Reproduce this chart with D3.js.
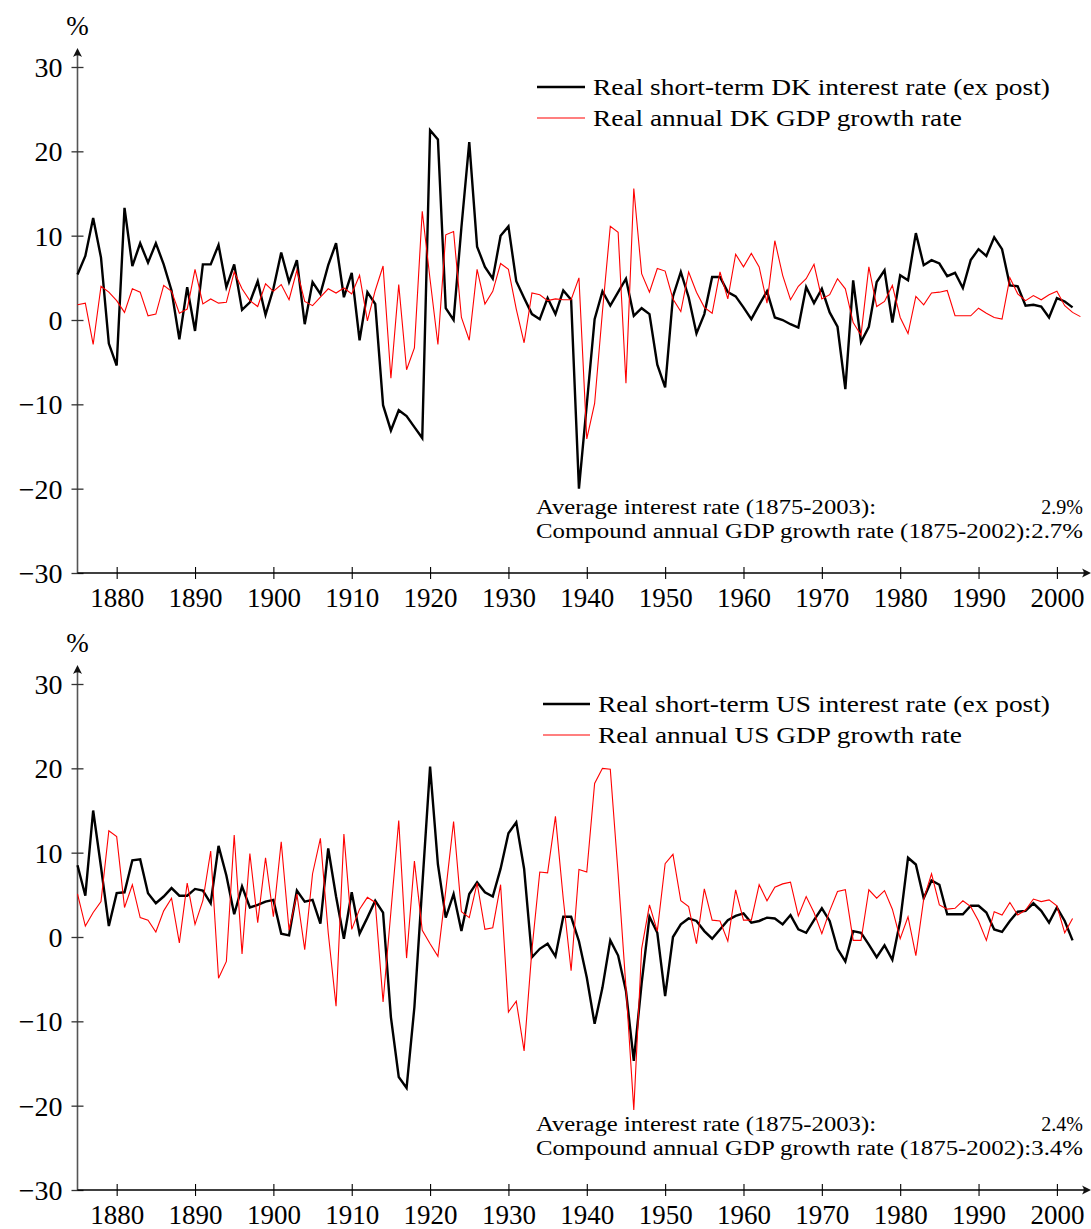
<!DOCTYPE html>
<html><head><meta charset="utf-8">
<script src="https://cdn.jsdelivr.net/npm/d3@7"></script>
<style>body{margin:0;background:#fff}svg{display:block}</style>
</head><body>
<svg id="c" width="1091" height="1229"></svg>
<script>
// ---------- DATA ----------
const startYear = 1875;
const xTickYears = [1880,1890,1900,1910,1920,1930,1940,1950,1960,1970,1980,1990,2000];
const yTickValues = [-30,-20,-10,0,10,20,30];

// Denmark, real short-term interest rate (ex post), 1875-2002
const dkRate = [
  5.4, 7.6, 12.1, 7.4, -2.8,
  -5.4, 13.3, 6.4, 9.1, 6.8, 9.1, 6.6, 3.5, -2.3, 3.9,
  -1.3, 6.6, 6.6, 8.9, 3.9, 6.6, 1.2, 2.1, 4.6, 0.6,
  3.7, 8.0, 4.5, 7.1, -0.5, 4.5, 3.1, 6.5, 9.1, 2.7,
  5.6, -2.4, 3.3, 1.9, -10.1, -13.1, -10.7, -11.4, -12.7, -14.0,
  22.5, 21.4, 1.4, 0.0, 11.0, 21.1, 8.7, 6.3, 4.9, 10.0,
  11.1, 4.6, 2.6, 0.7, 0.1, 2.6, 0.7, 3.5, 2.4, -20.0,
  -10.0, 0.1, 3.4, 1.7, 3.3, 4.9, 0.5, 1.4, 0.7, -5.3,
  -8.0, 2.8, 5.7, 2.7, -1.6, 0.7, 5.1, 5.1, 3.3, 2.8,
  1.5, 0.1, 1.8, 3.4, 0.3, 0.0, -0.5, -0.9, 3.9, 2.0,
  3.7, 0.9, -0.8, -8.2, 4.7, -2.6, -0.8, 4.5, 5.9, -0.3,
  5.3, 4.7, 10.3, 6.5, 7.1, 6.7, 5.2, 5.6, 3.8, 7.1,
  8.4, 7.6, 9.8, 8.4, 4.1, 4.0, 1.7, 1.8, 1.6, 0.3,
  2.6, 2.2, 1.5
];
// Denmark, real annual GDP growth rate, 1875-2003
const dkGdp = [
  1.8, 2.0, -2.9, 4.0, 3.3,
  2.3, 0.9, 3.7, 3.3, 0.5, 0.7, 4.1, 3.4, 0.8, 1.3,
  6.0, 1.9, 2.5, 2.0, 2.1, 5.7, 3.7, 2.3, 1.6, 4.3,
  3.4, 4.2, 2.4, 5.9, 2.2, 1.7, 2.7, 3.7, 3.2, 3.8,
  3.1, 5.3, -0.1, 3.5, 6.4, -6.9, 4.2, -5.9, -3.3, 12.9,
  4.8, -2.9, 10.1, 10.5, 0.3, -2.4, 6.0, 1.9, 3.4, 6.7,
  6.0, 1.3, -2.7, 3.2, 3.0, 2.3, 2.5, 2.4, 2.4, 5.0,
  -14.1, -9.9, 1.0, 11.1, 10.4, -7.5, 15.6, 5.5, 3.3, 6.1,
  5.8, 2.5, 1.0, 5.7, 3.3, 1.5, 0.8, 5.7, 2.5, 7.8,
  6.3, 7.9, 6.3, 2.0, 9.4, 5.3, 2.4, 4.0, 4.9, 6.6,
  2.5, 3.0, 4.9, 3.7, -0.3, -1.8, 6.3, 1.6, 2.2, 4.1,
  0.3, -1.6, 2.8, 1.8, 3.2, 3.3, 3.5, 0.5, 0.5, 0.5,
  1.4, 0.8, 0.3, 0.1, 5.0, 3.1, 2.3, 2.9, 2.4, 3.0,
  3.4, 1.7, 0.9, 0.4
];
// United States, real short-term interest rate (ex post), 1875-2002
const usRate = [
  8.5, 4.9, 15.0, 8.3, 1.3,
  5.2, 5.3, 9.1, 9.2, 5.2, 4.0, 4.8, 5.8, 4.9, 4.9,
  5.7, 5.5, 4.0, 10.8, 7.3, 2.7, 6.0, 3.5, 3.8, 4.2,
  4.4, 0.4, 0.2, 5.5, 4.2, 4.4, 1.6, 10.5, 4.8, -0.2,
  5.3, 0.4, 2.3, 4.3, 2.9, -9.5, -16.6, -17.9, -8.3, 6.0,
  20.2, 8.6, 2.3, 5.1, 0.7, 5.1, 6.5, 5.3, 4.8, 8.1,
  12.3, 13.6, 8.1, -2.4, -1.4, -0.8, -2.3, 2.4, 2.4, -0.5,
  -4.8, -10.3, -6.0, -0.4, -2.2, -6.4, -14.7, -5.5, 2.4, 0.5,
  -7.0, 0.0, 1.5, 2.2, 1.9, 0.7, -0.2, 0.9, 2.0, 2.5,
  2.8, 1.7, 1.9, 2.3, 2.2, 1.5, 2.6, 0.9, 0.5, 2.0,
  3.4, 1.9, -1.4, -2.9, 0.7, 0.5, -0.9, -2.4, -1.0, -2.7,
  1.9, 9.4, 8.6, 4.6, 6.7, 6.2, 2.7, 2.7, 2.7, 3.7,
  3.7, 2.9, 0.9, 0.6, 1.9, 3.0, 3.1, 4.0, 3.1, 1.7,
  3.5, 1.9, -0.4
];
// United States, real annual GDP growth rate, 1875-2002
const usGdp = [
  5.1, 1.3, 2.9, 4.2, 12.6,
  11.9, 3.5, 6.2, 2.3, 2.0, 0.6, 3.1, 4.6, -0.7, 6.4,
  1.5, 4.3, 10.2, -4.9, -2.9, 12.1, -2.0, 9.9, 1.7, 9.4,
  2.4, 11.3, 0.8, 5.1, -1.5, 7.5, 11.7, 0.5, -8.2, 12.2,
  0.9, 3.3, 4.7, 4.1, -7.7, 3.0, 13.8, -2.5, 9.0, 0.8,
  -0.8, -2.3, 5.5, 13.7, 3.0, 2.3, 6.4, 0.9, 1.1, 6.2,
  -8.9, -7.6, -13.5, -1.5, 7.7, 7.6, 14.3, 4.5, -4.0, 8.0,
  7.7, 18.2, 20.0, 19.9, 7.5, -6.0, -20.5, -1.4, 3.8, 0.7,
  8.7, 9.8, 4.3, 3.6, -0.8, 5.7, 2.0, 1.9, -0.5, 5.6,
  2.0, 2.0, 6.2, 4.3, 5.9, 6.3, 6.5, 2.5, 4.8, 2.9,
  0.4, 3.1, 5.4, 5.6, -0.4, -0.4, 5.6, 4.6, 5.5, 3.3,
  -0.2, 2.4, -2.2, 4.5, 7.5, 3.8, 3.3, 3.4, 4.3, 3.6,
  1.9, -0.4, 3.0, 2.6, 4.1, 2.6, 3.2, 4.5, 4.2, 4.4,
  3.7, 0.5, 2.2
];

const panels = [
  {rate: dkRate, gdp: dkGdp,
   legend: ["Real short-term DK interest rate (ex post)", "Real annual DK GDP growth rate"],
   avgLabel: "Average interest rate (1875-2003):", avgVal: "2.9%",
   gdpLabel: "Compound annual GDP growth rate (1875-2002):2.7%"},
  {rate: usRate, gdp: usGdp,
   legend: ["Real short-term US interest rate (ex post)", "Real annual US GDP growth rate"],
   avgLabel: "Average interest rate (1875-2003):", avgVal: "2.4%",
   gdpLabel: "Compound annual GDP growth rate (1875-2002):3.4%"}
];

// ---------- DRAW ----------
const svg = d3.select("#c");
const FONT = "'Liberation Serif','DejaVu Serif',serif";
const offsets = [0, 617];
const x = d3.scaleLinear().domain([1875, 2003]).range([77.5, 1080.4]);

panels.forEach((p, pi) => {
  const T = offsets[pi];
  const y = d3.scaleLinear().domain([-30, 30]).range([573 + T, 67 + T]);
  const g = svg.append("g");
  const x0 = x(1875), yBot = y(-30);

  // y axis
  g.append("line").attr("x1", x0).attr("x2", x0).attr("y1", yBot).attr("y2", 52 + T)
    .attr("stroke", "#555").attr("stroke-width", 1.6);
  g.append("path").attr("d", `M${x0},${48 + T} L${x0 - 4.5},${57 + T} Q${x0},${53.5 + T} ${x0 + 4.5},${57 + T} Z`)
    .attr("fill", "#111");
  const yAxis = d3.axisLeft(y).tickValues(yTickValues).tickSize(0)
    .tickFormat(d => d < 0 ? "\u2212" + Math.abs(d) : String(d));
  const ya = g.append("g").attr("transform", `translate(${x0},0)`).call(yAxis);
  ya.select(".domain").remove();
  ya.selectAll(".tick line").remove();
  ya.selectAll(".tick").append("line").attr("x1", -6).attr("x2", 6)
    .attr("stroke", "#333").attr("stroke-width", 1.3);
  ya.selectAll(".tick text").attr("x", -15).attr("dy", "0.34em")
    .style("font-family", FONT).style("font-size", "28px").attr("fill", "#000");

  // x axis
  g.append("line").attr("x1", x0).attr("x2", 1086).attr("y1", yBot).attr("y2", yBot)
    .attr("stroke", "#000").attr("stroke-width", 1.3);
  g.append("path").attr("d", `M1091,${yBot} L1082,${yBot - 4.5} Q1085.5,${yBot} 1082,${yBot + 4.5} Z`)
    .attr("fill", "#111");
  const xAxis = d3.axisBottom(x).tickValues(xTickYears).tickSize(0).tickFormat(d3.format("d"));
  const xa = g.append("g").attr("transform", `translate(0,${yBot})`).call(xAxis);
  xa.select(".domain").remove();
  xa.selectAll(".tick line").remove();
  xa.selectAll(".tick").append("line").attr("y1", -6).attr("y2", 6)
    .attr("stroke", "#000").attr("stroke-width", 1.1);
  xa.selectAll(".tick text").attr("y", 34).attr("dy", null)
    .style("font-family", FONT).style("font-size", "27px").attr("fill", "#000");

  // % label
  g.append("text").attr("x", x0).attr("y", 35 + T).attr("text-anchor", "middle")
    .style("font-family", FONT).style("font-size", "27px").text("%");

  // series lines
  const line = d3.line().x((d, i) => x(startYear + i)).y(d => y(d));
  g.append("path").datum(p.rate).attr("d", line).attr("fill", "none")
    .attr("stroke", "#000").attr("stroke-width", 2.4).attr("stroke-linejoin", "miter");
  g.append("path").datum(p.gdp).attr("d", line).attr("fill", "none")
    .attr("stroke", "#ff0000").attr("stroke-width", 1.1).attr("stroke-linejoin", "miter");

  // legend
  const lx1 = pi === 0 ? 537 : 543, lx2 = pi === 0 ? 585 : 590;
  const tx = pi === 0 ? 593 : 598;
  const ly = [87 + T, 118 + T];
  g.append("line").attr("x1", lx1).attr("x2", lx2).attr("y1", ly[0]).attr("y2", ly[0])
    .attr("stroke", "#000").attr("stroke-width", 2.4);
  g.append("line").attr("x1", lx1).attr("x2", lx2).attr("y1", ly[1]).attr("y2", ly[1])
    .attr("stroke", "#ff0000").attr("stroke-width", 1.1);
  g.append("text").attr("x", tx).attr("y", ly[0] + 8).attr("textLength", 1050 - tx)
    .attr("lengthAdjust", "spacingAndGlyphs")
    .style("font-family", FONT).style("font-size", "24px").text(p.legend[0]);
  g.append("text").attr("x", tx).attr("y", ly[1] + 8).attr("textLength", 962 - tx)
    .attr("lengthAdjust", "spacingAndGlyphs")
    .style("font-family", FONT).style("font-size", "24px").text(p.legend[1]);

  // annotations
  g.append("text").attr("x", 536).attr("y", 514 + T).attr("textLength", 340)
    .attr("lengthAdjust", "spacingAndGlyphs")
    .style("font-family", FONT).style("font-size", "20px").text(p.avgLabel);
  g.append("text").attr("x", 1083).attr("y", 514 + T).attr("text-anchor", "end")
    .style("font-family", FONT).style("font-size", "20px").text(p.avgVal);
  g.append("text").attr("x", 536).attr("y", 538 + T).attr("textLength", 547)
    .attr("lengthAdjust", "spacingAndGlyphs")
    .style("font-family", FONT).style("font-size", "20px").text(p.gdpLabel);
});
</script>
</body></html>
